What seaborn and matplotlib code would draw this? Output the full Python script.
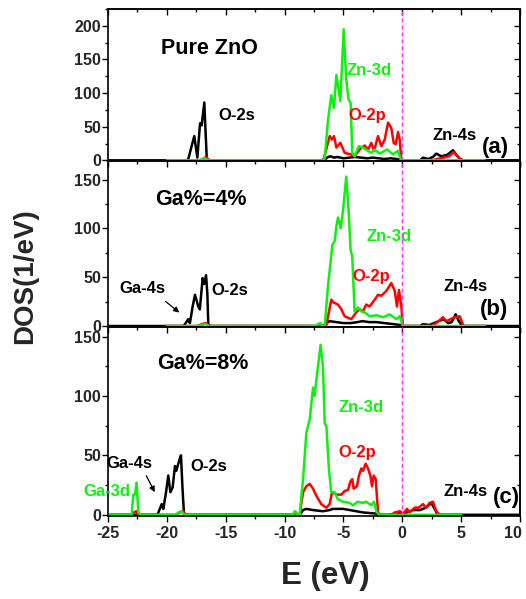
import matplotlib
matplotlib.use("Agg")
import matplotlib.pyplot as plt
import seaborn as sns
import pandas as pd
from matplotlib.ticker import MultipleLocator, FuncFormatter

sns.set_theme(style="white")
plt.rcParams['font.family'] = ['Liberation Sans', 'DejaVu Sans']
plt.rcParams['font.weight'] = 'bold'
plt.rcParams['axes.unicode_minus'] = False

# ---------------- data (E in eV, DOS in 1/eV) ----------------
a_black = [(-25, 0), (-18.3, 0), (-18.18, 2), (-17.67, 36), (-17.41, 4), (-17.18, 55), (-17.04, 52),
           (-16.82, 86), (-16.61, 2), (-16.5, 0), (-7.0, 0), (-6.6, 1), (-6.3, 5), (-6.1, 6), (-5.8, 4),
           (-5.5, 5), (-5.0, 3), (-4.5, 4), (-4.0, 5), (-3.5, 4), (-3.0, 3), (-2.5, 4), (-2.0, 3),
           (-1.5, 2), (-1.0, 3), (-0.5, 2), (-0.1, 1), (0.1, 0), (1.5, 0), (1.76, 4), (2.2, 2), (2.6, 5),
           (2.89, 10), (3.3, 6), (3.8, 8), (4.31, 15), (4.6, 8), (4.9, 2), (5.2, 0), (10, 0)]
a_red = [(-20, 0), (-17.2, 0), (-16.9, 2), (-16.7, 5), (-16.4, 0), (-6.7, 0), (-6.17, 36), (-5.97, 31),
         (-5.80, 36), (-5.60, 19), (-5.26, 26), (-4.89, 11), (-4.41, 9), (-4.05, 6), (-3.70, 14),
         (-3.48, 19), (-3.19, 22), (-2.91, 16), (-2.63, 26), (-2.40, 14), (-2.06, 36), (-1.78, 21),
         (-1.49, 31), (-1.21, 56), (-0.93, 48), (-0.73, 26), (-0.56, 24), (-0.36, 42), (-0.22, 31),
         (-0.08, 1), (0.1, 0), (2.5, 0), (3.0, 2), (3.5, 4), (4.0, 6), (4.35, 12), (4.6, 8), (4.9, 2),
         (5.1, 0), (7, 0)]
a_green = [(-20, 0), (-17.3, 0), (-17.0, 2), (-16.8, 3), (-16.5, 0), (-6.7, 0), (-6.59, 3), (-6.31, 60),
           (-6.03, 97), (-5.80, 78), (-5.60, 127), (-5.26, 88), (-4.98, 195), (-4.76, 120), (-4.56, 90),
           (-4.39, 86), (-4.25, 11), (-4.05, 6), (-3.70, 21), (-3.34, 19), (-2.91, 14), (-2.63, 11),
           (-2.34, 16), (-1.92, 10), (-1.30, 16), (-0.79, 9), (-0.36, 14), (-0.13, 1), (0.05, 0), (7, 0)]

b_black = [(-25, 0), (-18.6, 0), (-18.46, 2), (-18.18, 7), (-18.04, 3), (-17.81, 20), (-17.61, 32),
           (-17.33, 20), (-17.2, 17), (-16.96, 49), (-16.84, 43), (-16.67, 52), (-16.56, 33),
           (-16.48, 2), (-16.3, 0), (-7.0, 0), (-6.6, 1), (-6.2, 5), (-5.6, 4), (-5.0, 3), (-4.4, 3),
           (-3.8, 4), (-3.4, 5), (-2.8, 4), (-2.2, 4), (-1.5, 3), (-0.8, 2), (-0.1, 1), (0.1, 0),
           (1.5, 0), (1.76, 2), (2.3, 1), (3.1, 5), (3.5, 7), (3.9, 3), (4.2, 4), (4.53, 12), (4.8, 5),
           (5.1, 0), (10, 0)]
b_red = [(-20, 0), (-17.4, 0), (-17.0, 2), (-16.7, 3), (-16.4, 0), (-6.7, 0), (-6.45, 1), (-6.03, 27),
         (-5.83, 24), (-5.46, 22), (-5.17, 17), (-4.9, 10), (-4.33, 7), (-3.91, 14), (-3.63, 17),
         (-3.34, 15), (-3.06, 22), (-2.77, 20), (-2.34, 27), (-2.06, 32), (-1.78, 31), (-1.35, 36),
         (-0.93, 44), (-0.64, 36), (-0.45, 20), (-0.28, 37), (-0.08, 20), (0.05, 0), (2.5, 0),
         (2.9, 3), (3.46, 9), (3.75, 5), (4.45, 9), (4.88, 10), (5.2, 0), (7, 0)]
b_green = [(-20, 0), (-17.3, 0), (-17.0, 1), (-16.7, 2), (-16.4, 0), (-7.4, 0), (-7.16, 2), (-6.96, 3),
           (-6.8, 0), (-6.59, 0), (-6.31, 41), (-5.94, 83), (-5.74, 87), (-5.60, 102), (-5.46, 111),
           (-5.23, 100), (-5.03, 119), (-4.76, 153), (-4.55, 116), (-4.39, 78), (-4.25, 71),
           (-4.05, 15), (-3.77, 19), (-3.48, 15), (-3.19, 14), (-2.77, 10), (-2.2, 11), (-1.64, 9),
           (-1.07, 12), (-0.51, 7), (-0.22, 10), (0.05, 0), (7, 0)]

c_black = [(-25, 0), (-20.8, 0), (-20.44, 9), (-20.3, 5), (-20.07, 19), (-19.88, 33), (-19.70, 19),
           (-19.51, 23), (-19.31, 41), (-19.2, 37), (-18.97, 45), (-18.80, 50), (-18.67, 22),
           (-18.54, 0), (-9.0, 0), (-8.72, 0), (-8.43, 4), (-8.15, 5), (-7.6, 4), (-6.74, 3),
           (-6.17, 4), (-5.9, 5), (-5.03, 5), (-4.47, 4), (-3.9, 3), (-3.34, 2), (-2.2, 1), (-2.0, 0),
           (-1.0, 0), (-0.5, 2), (0.1, 1), (0.9, 4), (1.5, 4), (2.0, 6), (2.46, 10), (2.75, 5),
           (3.0, 0), (10, 0)]
c_red = [(-25, 0), (-23.0, 0), (-22.8, 2), (-22.6, 3), (-22.4, 0), (-19.2, 0), (-18.9, 2), (-18.6, 3),
         (-18.4, 0), (-8.72, 0), (-8.43, 19), (-8.15, 24), (-7.87, 26), (-7.58, 22), (-7.3, 16),
         (-6.88, 9), (-6.45, 6), (-6.17, 9), (-5.97, 19), (-5.6, 17), (-5.17, 17), (-4.90, 20),
         (-4.6, 21), (-4.41, 28), (-4.25, 30), (-4.13, 22), (-3.85, 24), (-3.68, 33), (-3.48, 39),
         (-3.34, 37), (-3.11, 43), (-2.91, 39), (-2.71, 33), (-2.57, 24), (-2.43, 33), (-2.26, 30),
         (-2.06, 2), (-1.9, 0), (-0.8, 0), (-0.64, 2), (-0.2, 3), (0.08, 1), (0.40, 5), (0.63, 2),
         (1.05, 6), (1.4, 6), (1.76, 9), (2.0, 6), (2.32, 10), (2.61, 11), (2.89, 3), (3.2, 0), (5, 0)]
c_green = [(-25, 0), (-23.1, 0), (-22.99, 0), (-22.85, 17), (-22.7, 17), (-22.57, 27), (-22.43, 3),
           (-22.28, 0), (-19.3, 0), (-19.0, 2), (-18.8, 3), (-18.5, 0), (-9.3, 0), (-9.14, 3),
           (-9.0, 2), (-8.9, 0), (-8.72, 0), (-8.43, 30), (-8.15, 69), (-7.87, 80), (-7.58, 107),
           (-7.45, 100), (-7.16, 125), (-6.94, 143), (-6.74, 125), (-6.59, 77), (-6.45, 75),
           (-6.23, 38), (-6.03, 19), (-5.75, 19), (-5.46, 13), (-5.03, 11), (-4.47, 10), (-4.19, 8),
           (-3.77, 11), (-3.34, 10), (-3.06, 11), (-2.63, 8), (-2.40, 11), (-2.2, 3), (-2.0, 0), (5, 0)]

orbitals = ["black", "red", "green"]
panel_data = {"a": [a_black, a_red, a_green],
              "b": [b_black, b_red, b_green],
              "c": [c_black, c_red, c_green]}
ylims = {"a": 225, "b": 169, "c": 158}
panel_titles = {"a": "Pure ZnO", "b": "Ga%=4%", "c": "Ga%=8%"}
fermi_E = 0.0

GREEN = "#11EE11"
RED = "#FF0000"
palette = {"black": "black", "red": RED, "green": GREEN}


def xfmt(v, pos):
    s = f"{v:g}"
    # the right-most label sits slightly inside the frame, as in the reference
    return s + "   " if v >= 10 else s


fig = plt.figure(figsize=(5.26, 5.99), dpi=100)
gs = fig.add_gridspec(3, 1, height_ratios=[152, 166, 189], hspace=0,
                      left=108 / 526, right=520 / 526, top=1 - 9 / 599, bottom=1 - 516 / 599)
axes = [fig.add_subplot(gs[i]) for i in range(3)]

for ax, key in zip(axes, ["a", "b", "c"]):
    rows = []
    for orb, curve in zip(orbitals, panel_data[key]):
        for e, d in curve:
            rows.append({"E": e, "DOS": d, "orb": orb})
    df = pd.DataFrame(rows)
    sns.lineplot(data=df, x="E", y="DOS", hue="orb", hue_order=orbitals, palette=palette,
                 estimator=None, sort=False, lw=1.8, legend=False, ax=ax)
    ax.axvline(fermi_E, color="#FF33FF", ls=(0, (3, 2)), lw=1.0, zorder=5)
    ax.set_xlim(-25, 10)
    ax.set_ylim(-1, ylims[key])
    ax.set_xlabel("")
    ax.set_ylabel("")
    ax.xaxis.set_major_locator(MultipleLocator(5))
    ax.xaxis.set_minor_locator(MultipleLocator(2.5))
    ax.xaxis.set_major_formatter(FuncFormatter(xfmt))
    ax.yaxis.set_major_locator(MultipleLocator(50))
    ax.yaxis.set_minor_locator(MultipleLocator(25))
    ax.tick_params(axis="both", which="both", direction="out", bottom=True, left=True,
                   top=False, right=False, width=1, color="black")
    ax.tick_params(which="major", length=4)
    ax.tick_params(which="minor", length=2.5)
    ax.tick_params(axis="y", labelsize=11.5, pad=1)
    ax.tick_params(axis="x", labelsize=11.5, pad=3)
    for lab in ax.get_xticklabels() + ax.get_yticklabels():
        lab.set_fontweight("bold")
    for sp in ax.spines.values():
        sp.set_color("black")
        sp.set_linewidth(1.2)
    # inward top / right ticks
    secx = ax.secondary_xaxis("top")
    secx.xaxis.set_major_locator(MultipleLocator(5))
    secx.xaxis.set_minor_locator(MultipleLocator(2.5))
    secx.tick_params(which="both", direction="in", labeltop=False, width=1, color="black")
    secx.tick_params(which="major", length=4)
    secx.tick_params(which="minor", length=2.5)
    secx.spines["top"].set_linewidth(1.2)
    secy = ax.secondary_yaxis("right")
    secy.yaxis.set_major_locator(MultipleLocator(50))
    secy.yaxis.set_minor_locator(MultipleLocator(25))
    secy.tick_params(which="both", direction="in", labelright=False, width=1, color="black")
    secy.tick_params(which="major", length=4)
    secy.tick_params(which="minor", length=2.5)
    secy.spines["right"].set_linewidth(1.2)
    if key != "c":
        ax.tick_params(axis="x", labelbottom=False)

axa, axb, axc = axes

lab = dict(fontsize=12, fontweight="bold", va="center", ha="left")
big = dict(fontsize=15.5, fontweight="bold", va="center", ha="left")
pl = dict(fontsize=16, fontweight="bold", va="center", ha="left")

# panel (a)
axa.text(-20.5, 166, panel_titles["a"], color="black", **big)
axa.text(-15.65, 67, "O-2s", color="black", **lab)
axa.text(-4.78, 133, "Zn-3d", color=GREEN, **lab)
axa.text(-4.61, 66, "O-2p", color=RED, **lab)
axa.text(2.6, 37, "Zn-4s", color="black", **lab)
axa.text(6.8, 19, "(a)", color="black", **pl)

# panel (b)
axb.text(-21.0, 130, panel_titles["b"], color="black", **big)
axb.text(-24.0, 38.5, "Ga-4s", color="black", **lab)
axb.annotate("", xy=(-18.75, 12), xytext=(-20.3, 27),
             arrowprops=dict(arrowstyle="-|>", color="black", lw=0.9, mutation_scale=8))
axb.text(-16.2, 36, "O-2s", color="black", **lab)
axb.text(-3.08, 91.5, "Zn-3d", color=GREEN, **lab)
axb.text(-4.2, 51, "O-2p", color=RED, **lab)
axb.text(3.46, 40.5, "Zn-4s", color="black", **lab)
axb.text(6.6, 17, "(b)", color="black", **pl)

# panel (c)
axc.text(-20.8, 127, panel_titles["c"], color="black", **big)
axc.text(-25.1, 43, "Ga-4s", color="black", **lab)
axc.annotate("", xy=(-20.92, 17), xytext=(-21.86, 35),
             arrowprops=dict(arrowstyle="-|>", color="black", lw=0.9, mutation_scale=8))
axc.text(-27.1, 20, "Ga-3d", color=GREEN, clip_on=False, **lab)
axc.text(-18.0, 41, "O-2s", color="black", **lab)
axc.text(-5.46, 90.5, "Zn-3d", color=GREEN, **lab)
axc.text(-5.46, 52.5, "O-2p", color=RED, **lab)
axc.text(3.46, 20, "Zn-4s", color="black", **lab)
axc.text(7.7, 14.5, "(c)", color="black", **pl)

fig.text(25 / 526, 1 - 276 / 599, "DOS(1/eV)", rotation=90, fontsize=20, fontweight="bold",
         ha="center", va="center")
fig.text(325 / 526, 1 - 576 / 599, "E (eV)", fontsize=22.5, fontweight="bold",
         ha="center", va="center")

fig.savefig("out.png", dpi=100)
